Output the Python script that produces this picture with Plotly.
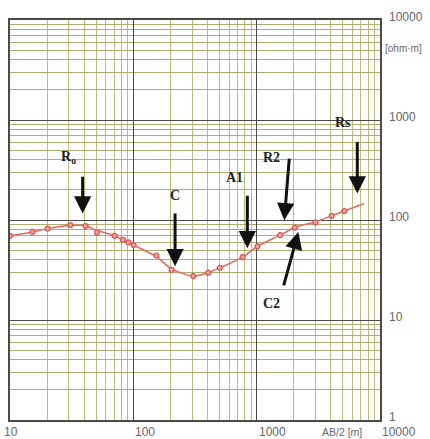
import math
import plotly.graph_objects as go

# Measured apparent resistivity (sounding points)
ab2 = [10, 15.2, 20.2, 30.8, 41, 50.7, 70.5, 82.4, 91.5, 100.5, 154, 204, 306, 405, 503,
       770, 1014, 1549, 2040, 3000, 4050, 5130]
rho = [69.5, 76, 82, 89, 87, 75, 69.5, 63.4, 59.7, 56, 44, 31.8, 27.5, 29.7, 33.3,
       42.6, 54.5, 70.6, 84, 94.5, 110, 123]

# Fitted model curve
curve_x = [10, 15.2, 20.2, 30.8, 41, 50.7, 70.5, 100.5, 154, 204, 306, 405, 503,
           770, 1014, 1549, 2040, 3000, 4050, 5130, 7450]
curve_y = [69.5, 76, 82, 88, 87, 79, 69.5, 56, 43, 32.5, 27.5, 29.7, 33.3,
           42.6, 54.5, 70.6, 84, 96, 110, 123, 146]

# Tick labels
x_ticks = [10, 100, 1000, 10000]
x_tick_text = ["10", "100", "1000", "10000"]
y_ticks = [1, 10, 100, 1000, 10000]
y_tick_text = ["1", "10", "100", "1000", "10000"]

# Interpretation labels: text, label x, label y
label_text = ["R<sub>o</sub>", "C", "A1", "R2", "Rs", "C2"]
label_x = [29.7, 218, 667, 1324, 5010, 1324]
label_y = [426, 177, 269, 426, 946, 14.6]

# Arrows: tip (x, y) and tail (x, y)
arrow_tip_x = [38.8, 218, 840, 1675, 6546, 2178]
arrow_tip_y = [116, 34.4, 52.1, 99.3, 183.6, 75.9]
arrow_tail_x = [38.8, 218, 840, 1841, 6546, 1644]
arrow_tail_y = [280, 120, 181, 426, 625, 21.4]

RED = "#e5675f"
MAJOR = "#4a4a4a"
MINOR_X = "#bcbc78"
MINOR_Y = "#adad72"

fig = go.Figure()
fig.add_trace(go.Scatter(
    x=curve_x, y=curve_y, mode="lines",
    line=dict(color=RED, width=1.5, shape="spline", smoothing=0.8),
    hoverinfo="skip", showlegend=False))
fig.add_trace(go.Scatter(
    x=ab2, y=rho, mode="markers",
    marker=dict(size=5, color="#f2a09a", line=dict(color="#d9534c", width=1.2)),
    showlegend=False))

annotations = []
for t, lx, ly in zip(label_text, label_x, label_y):
    annotations.append(dict(
        x=math.log10(lx), y=math.log10(ly), xref="x", yref="y", text="<b>" + t + "</b>",
        showarrow=False, font=dict(family="Liberation Serif, Times New Roman, serif",
                                   size=14, color="#222"),
        xanchor="center", yanchor="middle"))
for tx, ty, sx, sy in zip(arrow_tip_x, arrow_tip_y, arrow_tail_x, arrow_tail_y):
    annotations.append(dict(
        x=math.log10(tx), y=math.log10(ty), xref="x", yref="y",
        ax=math.log10(sx), ay=math.log10(sy), axref="x", ayref="y",
        text="", showarrow=True, arrowhead=2, arrowsize=1.15, arrowwidth=3,
        arrowcolor="#111", standoff=0, startstandoff=0))

tick_font = dict(family="Liberation Sans, Arial, sans-serif", size=12, color="#666")
for i, (v, t) in enumerate(zip(x_ticks, x_tick_text)):
    annotations.append(dict(
        x=math.log10(v), y=0, xref="x", yref="paper", text=t, showarrow=False,
        xanchor="left", yanchor="top", yshift=-3, xshift=(-8 if i == 0 else 0),
        font=tick_font))
for v, t in zip(y_ticks, y_tick_text):
    annotations.append(dict(
        x=1, y=math.log10(v), xref="paper", yref="y", text=t, showarrow=False,
        xanchor="left", yanchor="middle", xshift=7, yshift=3, font=tick_font))

annotations.append(dict(x=1, y=0, xref="paper", yref="paper", text="AB/2 [m]",
                        showarrow=False, xanchor="right", yanchor="top",
                        xshift=-16, yshift=-4,
                        font=dict(family="Liberation Sans, Arial, sans-serif",
                                  size=10.5, color="#666")))
annotations.append(dict(x=1, y=1, xref="paper", yref="paper", text="[ohm·m]",
                        showarrow=False, xanchor="left", yanchor="middle",
                        xshift=3, yshift=-28,
                        font=dict(family="Liberation Sans, Arial, sans-serif",
                                  size=10, color="#666")))

fig.update_layout(
    width=430, height=439,
    margin=dict(l=10, r=50, t=20, b=19),
    paper_bgcolor="white", plot_bgcolor="white",
    annotations=annotations,
    hovermode=False,
    xaxis=dict(type="log", range=[1, 4], dtick=1, showticklabels=False,
               showgrid=True, gridcolor=MAJOR, gridwidth=1.3,
               minor=dict(dtick="D1", showgrid=True, gridcolor=MINOR_X, gridwidth=1.4, ticks=""),
               showline=True, linecolor=MAJOR, linewidth=2, mirror=True,
               ticks="", zeroline=False),
    yaxis=dict(type="log", range=[0, 4], dtick=1, showticklabels=False,
               showgrid=True, gridcolor=MAJOR, gridwidth=1.3,
               minor=dict(dtick="D1", showgrid=True, gridcolor=MINOR_Y, gridwidth=1.4, ticks=""),
               showline=True, linecolor=MAJOR, linewidth=2, mirror=True,
               ticks="", zeroline=False),
)

fig.write_html("out.html",
               config={"displayModeBar": False},
               post_script="document.body.style.margin='0px';document.body.style.overflow='hidden';")
